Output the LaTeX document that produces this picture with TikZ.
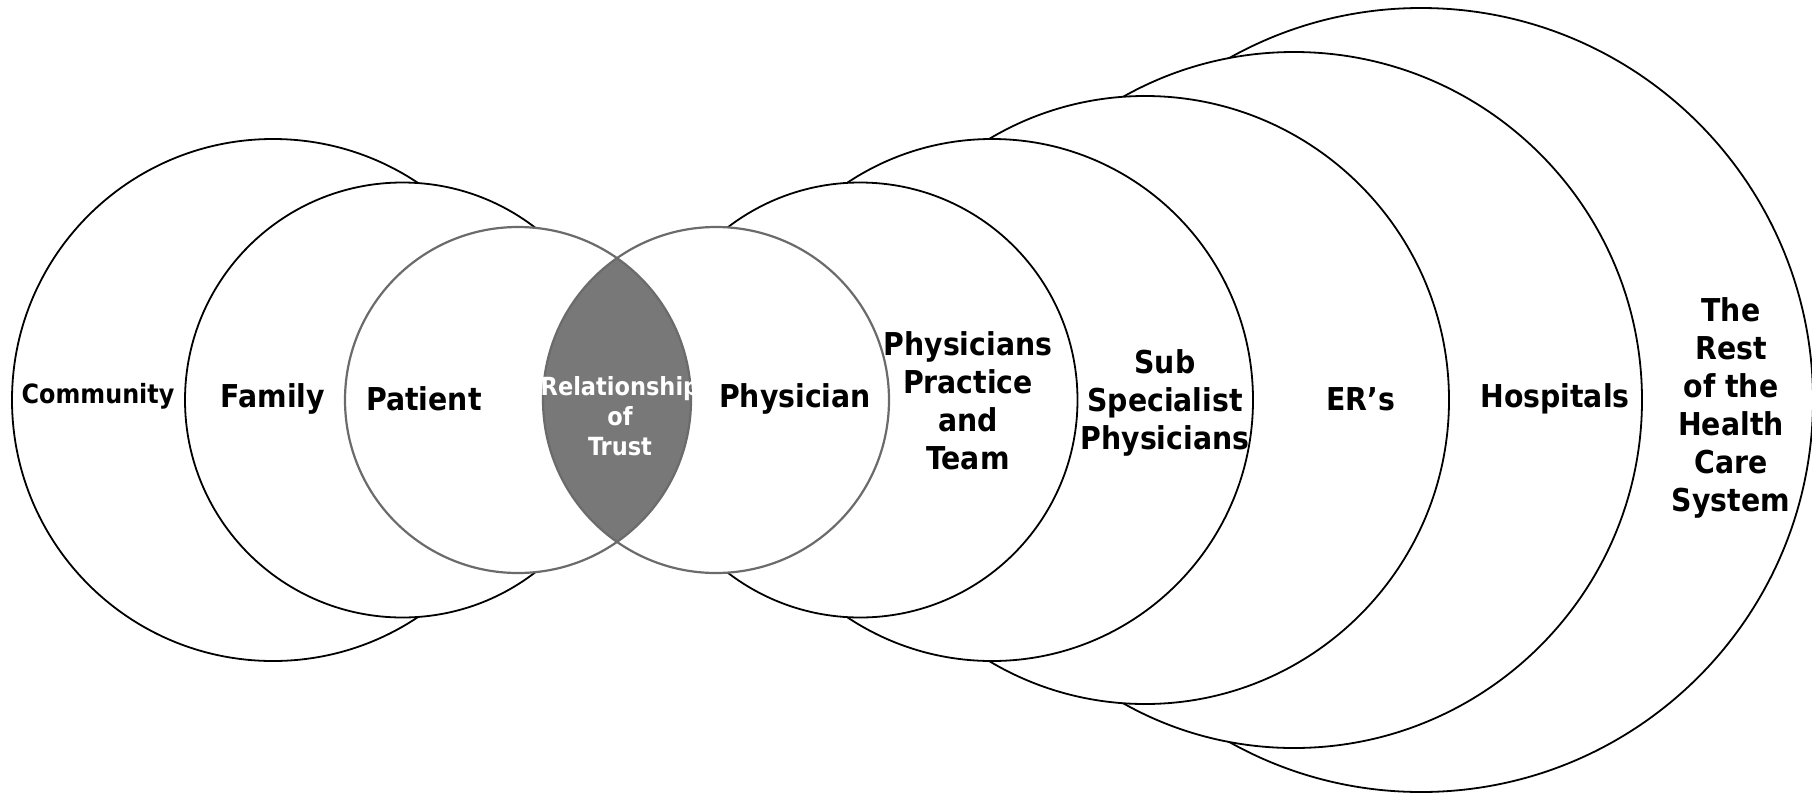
\documentclass[tikz,border=0pt]{standalone}
\usepackage{fontspec}
\setmainfont{DejaVu Sans Condensed}
\begin{document}
\begin{tikzpicture}[x=1pt,y=-1pt,
  ring/.style={circle,draw=black,line width=1.8pt,fill=white,inner sep=0pt},
  gring/.style={circle,draw=black!58,line width=2.2pt,inner sep=0pt},
  lbl/.style={font=\bfseries\fontsize{31.5}{38}\selectfont,align=center,inner sep=0pt},
  wlbl/.style={font=\bfseries\fontsize{25}{30}\selectfont,align=center,inner sep=0pt,text=white}]
\useasboundingbox (0,0) rectangle (1812,793);
% right stack (largest first)
\node[ring,minimum size=784pt] (rest) at (1421,400) {};
\node[ring,minimum size=696pt] (hosp) at (1294,400) {};
\node[ring,minimum size=608pt] (ers) at (1145,400) {};
\node[ring,minimum size=522pt] (sub) at (992,400) {};
\node[ring,minimum size=435pt] (prac) at (860,400) {};
% left stack
\node[ring,minimum size=522pt] (comm) at (273,400) {};
\node[ring,minimum size=435pt] (fam) at (402.5,400) {};
% patient and physician
\node[circle,fill=white,minimum size=346pt,inner sep=0pt] (patfill) at (518,400) {};
\node[circle,fill=white,minimum size=346pt,inner sep=0pt] (phyfill) at (716,400) {};
\begin{scope}
  \clip (518,400) circle (173pt);
  \fill[black!53] (716,400) circle (173pt);
\end{scope}
\node[gring,minimum size=346pt] (pat) at (518,400) {};
\node[gring,minimum size=346pt] (phy) at (716,400) {};
% labels
\node[lbl,font=\bfseries\fontsize{26.5}{32}\selectfont] (tcomm) at (98,396) {Community};
\node[lbl] (tfam) at (273,399) {Family};
\node[lbl] (tpat) at (424,399) {Patient};
\node[wlbl] (ttrust) at (620,416) {Relationship\\of\\Trust};
\node[lbl] (tphy) at (795,399) {Physician};
\node[lbl] (tprac) at (968,401) {Physicians\\Practice\\and\\Team};
\node[lbl] (tsub) at (1165,403) {Sub\\Specialist\\Physicians};
\node[lbl] (ters) at (1361,399) {ER’s};
\node[lbl] (thosp) at (1555,399) {Hospitals};
\node[lbl] (trest) at (1731,408) {The\\Rest\\of the\\Health\\Care\\System};
\end{tikzpicture}
\end{document}
